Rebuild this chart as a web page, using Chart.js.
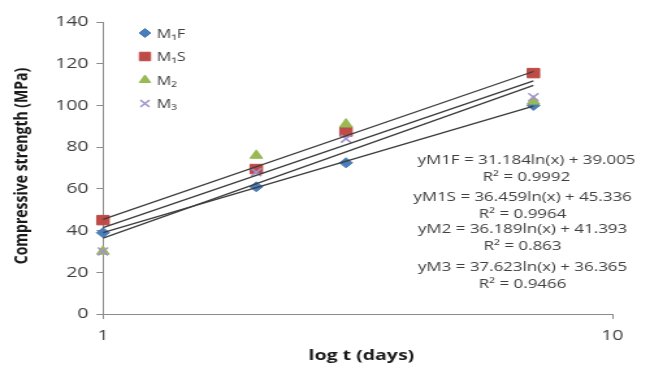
<!DOCTYPE html>
<html>
<head>
<meta charset="utf-8">
<script src="https://cdn.jsdelivr.net/npm/chart.js@4"></script>
<style>
  html, body { margin: 0; padding: 0; background: #fff; overflow: hidden; }
  /* the chart is laid out narrow and widened to 663px */
  #wrap { width: 510px; height: 370px; transform: scaleX(1.3); transform-origin: 0 0; }
</style>
</head>
<body>
<div id="wrap"><canvas id="c"></canvas></div>
<script>
const days = [1, 2, 3, 7];
const m1f = [39, 61, 72.5, 100];
const m1s = [45, 69.5, 87.5, 115.5];
const m2 = [30, 76, 91, 102];
const m3 = [30, 68, 84, 104];

const seriesNames = ['M₁F', 'M₁S', 'M₂', 'M₃'];
const fitNames = ['yM1F', 'yM1S', 'yM2', 'yM3'];
const fitSlope = [31.184, 36.459, 36.189, 37.623];
const fitIntercept = [39.005, 45.336, 41.393, 36.365];
const fitR2 = ['0.9992', '0.9964', '0.863', '0.9466'];

const yTicks = [0, 20, 40, 60, 80, 100, 120, 140];
const xTicks = [1, 10];

const FONT = '"Open Sans", "DejaVu Sans", sans-serif';
const AXIS = '#8c8c8c';
const TEXT = '#404040';

const styles = [
  { pointStyle: 'rectRot', color: '#4a7ebb', radius: 5 },
  { pointStyle: 'rect', color: '#be4b48', radius: 6.7 },
  { pointStyle: 'triangle', color: '#98b954', radius: 5.6 },
  { pointStyle: 'crossRot', color: '#a493cc', radius: 5.5 }
];

const values = [m1f, m1s, m2, m3];

// later series are painted over earlier ones
const pointSets = values.map((vals, i) => ({
  label: seriesNames[i],
  data: days.map((d, j) => ({ x: d, y: vals[j] })),
  showLine: false,
  clip: false,
  pointStyle: styles[i].pointStyle,
  pointRadius: styles[i].radius,
  pointHoverRadius: styles[i].radius,
  backgroundColor: styles[i].color,
  borderColor: styles[i].color,
  borderWidth: styles[i].pointStyle === 'crossRot' ? 1.6 : 1,
  order: 10 - i
}));

// logarithmic trend lines, straight on a log axis so the two ends are enough
const first = days[0], last = days[days.length - 1];
const trendSets = fitSlope.map((a, i) => ({
  label: fitNames[i],
  data: [first, last].map(x => ({ x, y: a * Math.log(x) + fitIntercept[i] })),
  showLine: true,
  pointRadius: 0,
  borderColor: '#3c3c3c',
  borderWidth: 1.3,
  order: 1
}));

const overlay = {
  id: 'overlay',
  afterDraw(chart) {
    const ctx = chart.ctx;
    ctx.save();

    // legend
    pointSets.forEach((ds, i) => {
      const y = 33 + i * 23.5;
      ctx.fillStyle = ds.backgroundColor;
      ctx.strokeStyle = ds.borderColor;
      ctx.lineWidth = ds.borderWidth;
      Chart.helpers.drawPoint(ctx, { pointStyle: ds.pointStyle, radius: ds.pointRadius * 0.9, borderWidth: ds.borderWidth, rotation: 0 }, 111.5, y);
      ctx.fillStyle = TEXT;
      ctx.font = '12.5px ' + FONT;
      ctx.textAlign = 'left';
      ctx.textBaseline = 'middle';
      ctx.fillText(ds.label, 120.5, y + 1);
    });

    // trend equations
    const eqY = [160, 197, 229, 267];
    ctx.font = '13px ' + FONT;
    ctx.textAlign = 'center';
    ctx.textBaseline = 'middle';
    ctx.fillStyle = TEXT;
    fitSlope.forEach((a, i) => {
      const cx = i === 0 ? 405 : 402;
      ctx.fillText(fitNames[i] + ' = ' + a.toFixed(3) + 'ln(x) + ' + fitIntercept[i].toFixed(3), cx, eqY[i]);
      ctx.fillText('R² = ' + fitR2[i], cx, eqY[i] + 17);
    });

    // axis titles
    ctx.fillStyle = '#1a1a1a';
    ctx.font = 'bold 15px ' + FONT;
    ctx.fillText('log t (days)', 278, 356);
    ctx.translate(17, 166);
    ctx.rotate(-Math.PI / 2);
    ctx.font = 'bold 14px ' + FONT;
    ctx.fillText('Compressive strength (MPa)', 0, 0);
    ctx.restore();
  }
};

new Chart(document.getElementById('c'), {
  type: 'scatter',
  data: { datasets: [...pointSets, ...trendSets] },
  options: {
    responsive: true,
    maintainAspectRatio: false,
    animation: false,
    layout: { padding: { left: 0, right: 39, top: 22, bottom: 0 } },
    plugins: { legend: { display: false }, tooltip: { enabled: false } },
    scales: {
      x: {
        type: 'logarithmic',
        min: xTicks[0],
        max: xTicks[xTicks.length - 1],
        afterBuildTicks(scale) { scale.ticks = xTicks.map(v => ({ value: v, major: true })); },
        afterFit(scale) { scale.height = 56; },
        grid: { drawOnChartArea: false, drawTicks: true, tickLength: 5, color: AXIS },
        border: { color: AXIS, width: 1 },
        ticks: {
          autoSkip: false,
          maxRotation: 0,
          padding: 8,
          color: TEXT,
          font: { family: FONT, size: 15 },
          callback: v => String(v)
        }
      },
      y: {
        min: yTicks[0],
        max: yTicks[yTicks.length - 1],
        afterBuildTicks(scale) { scale.ticks = yTicks.map(v => ({ value: v })); },
        afterFit(scale) { scale.width = 79.2; },
        grid: { drawOnChartArea: false, drawTicks: true, tickLength: 5, color: AXIS },
        border: { color: AXIS, width: 1 },
        ticks: {
          padding: 6,
          color: TEXT,
          font: { family: FONT, size: 15 }
        }
      }
    }
  },
  plugins: [overlay]
});
</script>
</body>
</html>
